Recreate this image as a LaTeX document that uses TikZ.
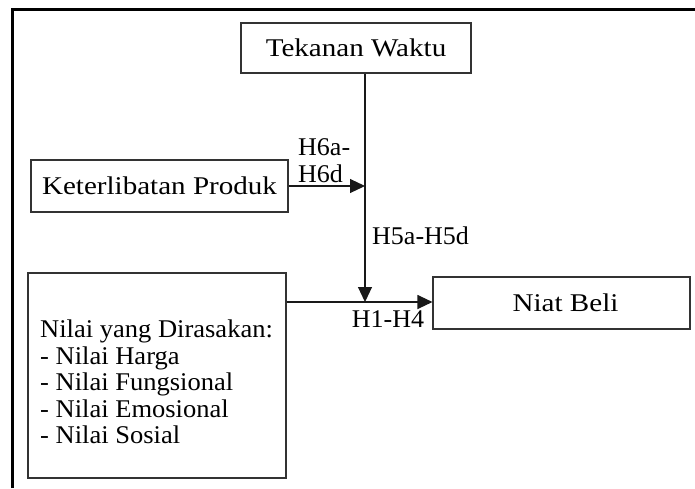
\documentclass[tikz,border=0pt]{standalone}
\usepackage{fontspec}
\setmainfont{Liberation Serif}
\newfontfamily\boxlabelfont{Liberation Serif}[FakeStretch=1.14]
\newfontfamily\listfont{Liberation Serif}[FakeStretch=1.04]
\newfontfamily\hypfont{Liberation Serif}[FakeStretch=1.02]
\usetikzlibrary{arrows.meta}
\begin{document}
\begin{tikzpicture}[x=1pt,y=-1pt,
  box/.style={draw=black!80,line width=1.1pt,rectangle,inner sep=0pt,font=\boxlabelfont\fontsize{25.5}{26.5}\selectfont},
  conn/.style={draw=black!90,line width=1.1pt},
  arr/.style={conn,-{Triangle[length=15pt,width=14pt]}},
  lbl/.style={inner sep=0pt,font=\hypfont\fontsize{25.5}{26.5}\selectfont},
  listlbl/.style={inner sep=0pt,font=\listfont\fontsize{25.5}{26.5}\selectfont}]
\useasboundingbox (0,0) rectangle (695,488);
\fill[white] (0,0) rectangle (695,488);
% outer frame (cut at right and bottom)
\draw[line width=2.2pt,black] (12.5,488) -- (12.5,9.5) -- (695,9.5);
% boxes
\node[box,minimum width=230pt,minimum height=50pt] (tw) at (356,48) {Tekanan Waktu};
\node[box,minimum width=257pt,minimum height=52pt] (kp) at (159.5,186) {Keterlibatan Produk};
\node[box,minimum width=258pt,minimum height=205pt] (nv) at (157,375.5) {};
\node[box,minimum width=257pt,minimum height=52pt] (nb) at (561.5,303) {\hspace*{8pt}Niat Beli};
\node[listlbl,anchor=north west,align=left] (nvt) at (40,320) {Nilai yang Dirasakan:\\- Nilai Harga\\- Nilai Fungsional\\- Nilai Emosional\\- Nilai Sosial};
% junctions
\coordinate (j1) at (365,186);
\coordinate (j2) at (365,302);
% connectors
\draw[conn] (tw.south -| j1) -- (j1);
\draw[arr] (j1) -- (j2);
\draw[arr] (kp.east) -- (j1);
\draw[arr] (nv.east |- j2) -- (nb.west |- j2);
% labels
\node[lbl,anchor=base west] (h6a) at (298,155) {H6a-};
\node[lbl,anchor=base west] (h6b) at (298,182) {H6d};
\node[lbl,anchor=base west] (h5) at (372,244) {H5a-H5d};
\node[lbl,anchor=base] (h1) at (388,327) {H1-H4};
\end{tikzpicture}
\end{document}
